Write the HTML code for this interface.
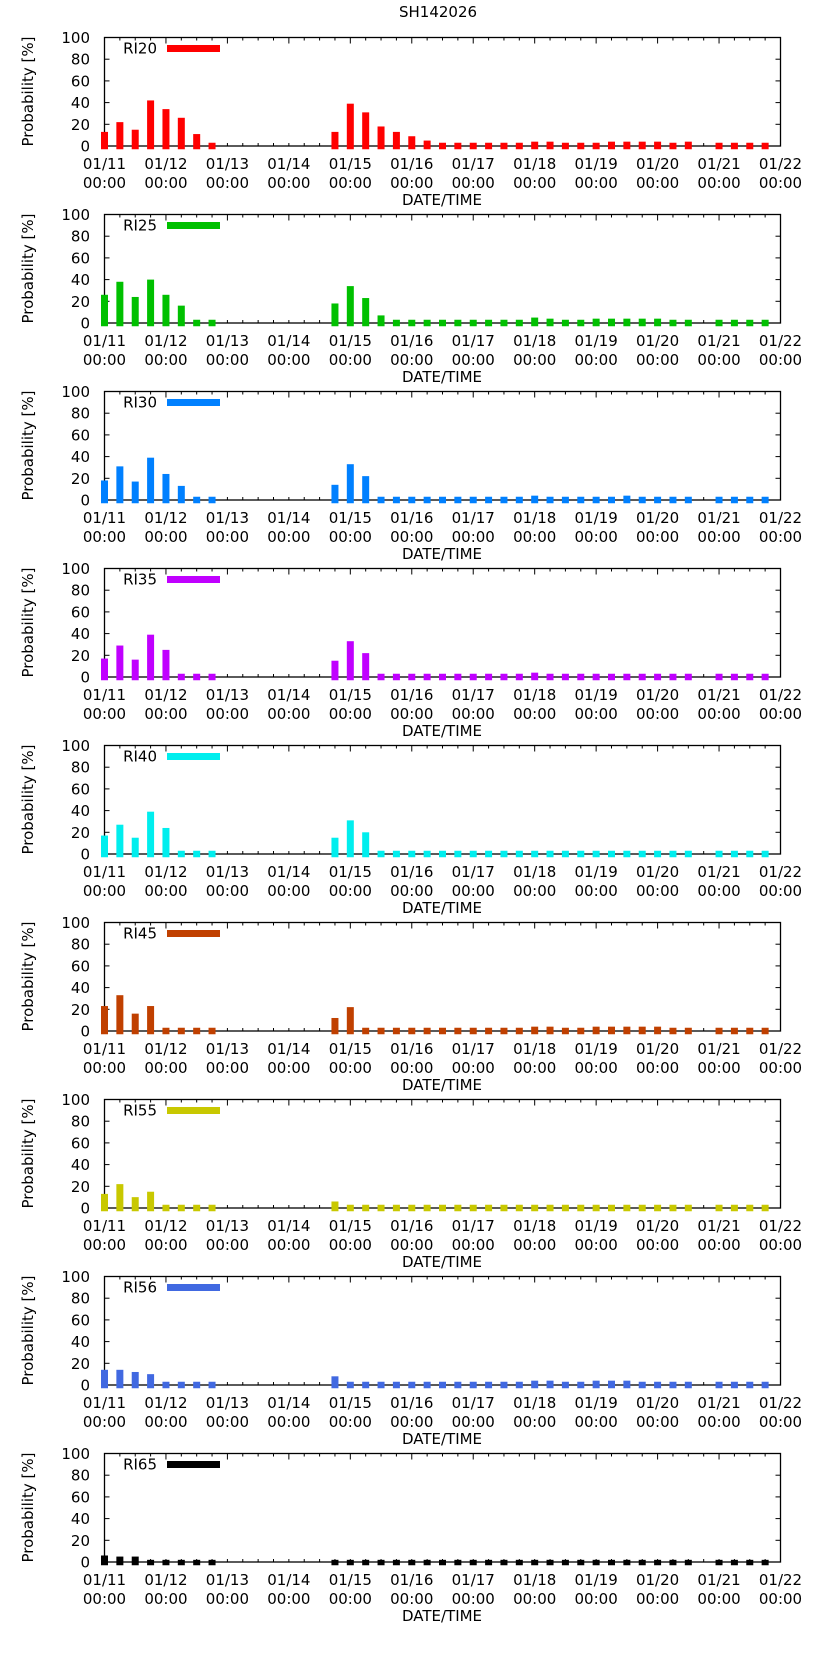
<!DOCTYPE html>
<html><head><meta charset="utf-8"><style>
html,body{margin:0;padding:0;background:#fff;}
svg{display:block;font-family:"DejaVu Sans","Liberation Sans",sans-serif;}
</style></head><body>
<svg id="chart" width="822" height="1653" viewBox="0 0 822 1653" xmlns="http://www.w3.org/2000/svg">
<text x="438" y="17" font-size="15" text-anchor="middle" fill="#000">SH142026</text>
</svg>
<script>
// time slots (hours from 01/11 00:00) for bars
const slotHours = [0,6,12,18,24,30,36,42,
 90,96,102,108,114,120,126,132,138,144,150,156,162,168,174,180,186,192,198,204,210,216,222,228,
 240,246,252,258];
const seriesNames = ["RI20","RI25","RI30","RI35","RI40","RI45","RI55","RI56","RI65"];
const seriesColors = ["#ff0000","#00c000","#0080ff","#c000ff","#00eeee","#c04000","#c8c800","#4169e1","#000000"];
const ri20 = [13,22,15,42,34,26,11,3, 13,39,31,18,13,9,5,3,3,3,3,3,3,4,4,3,3,3,4,4,4,4,3,4, 3,3,3,3];
const ri25 = [26,38,24,40,26,16,3,3, 18,34,23,7,3,3,3,3,3,3,3,3,3,5,4,3,3,4,4,4,4,4,3,3, 3,3,3,3];
const ri30 = [18,31,17,39,24,13,3,3, 14,33,22,3,3,3,3,3,3,3,3,3,3,4,3,3,3,3,3,4,3,3,3,3, 3,3,3,3];
const ri35 = [17,29,16,39,25,3,3,3, 15,33,22,3,3,3,3,3,3,3,3,3,3,4,3,3,3,3,3,3,3,3,3,3, 3,3,3,3];
const ri40 = [17,27,15,39,24,3,3,3, 15,31,20,3,3,3,3,3,3,3,3,3,3,3,3,3,3,3,3,3,3,3,3,3, 3,3,3,3];
const ri45 = [23,33,16,23,3,3,3,3, 12,22,3,3,3,3,3,3,3,3,3,3,3,4,4,3,3,4,4,4,4,4,3,3, 3,3,3,3];
const ri55 = [13,22,10,15,3,3,3,3, 6,3,3,3,3,3,3,3,3,3,3,3,3,3,3,3,3,3,3,3,3,3,3,3, 3,3,3,3];
const ri56 = [14,14,12,10,3,3,3,3, 8,3,3,3,3,3,3,3,3,3,3,3,3,4,4,3,3,4,4,4,3,3,3,3, 3,3,3,3];
const ri65 = [6,5,5,2,2,2,2,2, 2,2,2,2,2,2,2,2,2,2,2,2,2,2,2,2,2,2,2,2,2,2,2,2, 2,2,2,2];
const allSeries = [ri20,ri25,ri30,ri35,ri40,ri45,ri55,ri56,ri65];
const dayLabels = ["01/11","01/12","01/13","01/14","01/15","01/16","01/17","01/18","01/19","01/20","01/21","01/22"];
const yTicks = [0,20,40,60,80,100];

const NS = "http://www.w3.org/2000/svg";
const svg = document.getElementById("chart");
const X0 = 104.5, X1 = 780.5, PH = 108.5, TOP0 = 37.5, STEP = 177;
function xScale(h){ return X0 + (X1 - X0) * h / 264; }
function mk(tag, attrs, parent){
  const e = document.createElementNS(NS, tag);
  for (const k in attrs) e.setAttribute(k, attrs[k]);
  (parent || svg).appendChild(e);
  return e;
}
allSeries.forEach((vals, si) => {
  const top = TOP0 + si * STEP, bot = top + PH;
  const yScale = v => bot - PH * v / 100;
  const g = mk("g", {});
  
  
  const fr = mk("rect", {x: X0, y: top, width: X1 - X0, height: PH, fill: "none", stroke: "#000", "stroke-width": 1.3}, g);
  
  
  yTicks.forEach(t => {
    const y = yScale(t);
    mk("line", {x1: X0, x2: X0 + 5, y1: y, y2: y, stroke: "#000"}, g);
    mk("line", {x1: X1, x2: X1 - 5, y1: y, y2: y, stroke: "#000"}, g);
    const tl = mk("text", {x: 90, y: y + 5.5, "font-size": 15, "text-anchor": "end"}, g);
    
    
    tl.textContent = t;
  });
  for (let h = 0; h <= 264; h += 6) {
    const x = xScale(h), len = (h % 24 === 0) ? 6 : 3;
    mk("line", {x1: x, x2: x, y1: bot, y2: bot - 3, stroke: "#000"}, g);
    mk("line", {x1: x, x2: x, y1: top, y2: top + len, stroke: "#000"}, g);
  }
  dayLabels.forEach((d, i) => {
    const x = xScale(i * 24);
    const a = mk("text", {x: x, y: bot + 23, "font-size": 15, "text-anchor": "middle"}, g);
    
    
    a.textContent = d;
    const b = mk("text", {x: x, y: bot + 42, "font-size": 15, "text-anchor": "middle"}, g);
    
    
    b.textContent = "00:00";
  });
  const xt = mk("text", {x: 442, y: bot + 59, "font-size": 15, "text-anchor": "middle"}, g);
  
  
  xt.textContent = "DATE/TIME";
  const yl = mk("text", {x: 0, y: 0, "font-size": 15, "text-anchor": "middle", transform: "translate(33," + (top + 54) + ") rotate(-90)"}, g);
  
  
  yl.textContent = "Probability [%]";
  const lt = mk("text", {x: 157, y: top + 16, "font-size": 15, "text-anchor": "end"}, g);
  
  
  lt.textContent = seriesNames[si];
  const ls = mk("rect", {x: 167, y: top + 7.5, width: 53, height: 7, fill: seriesColors[si]}, g);
  
  
  vals.forEach((v, i) => {
    const x = xScale(slotHours[i]);
    const yt = yScale(v), yb = yScale(-3);
    const r = mk("rect", {x: x - 3.5, y: yt, width: 7, height: yb - yt, fill: seriesColors[si]}, g);
    
    
  });
});
</script>
</body></html>
